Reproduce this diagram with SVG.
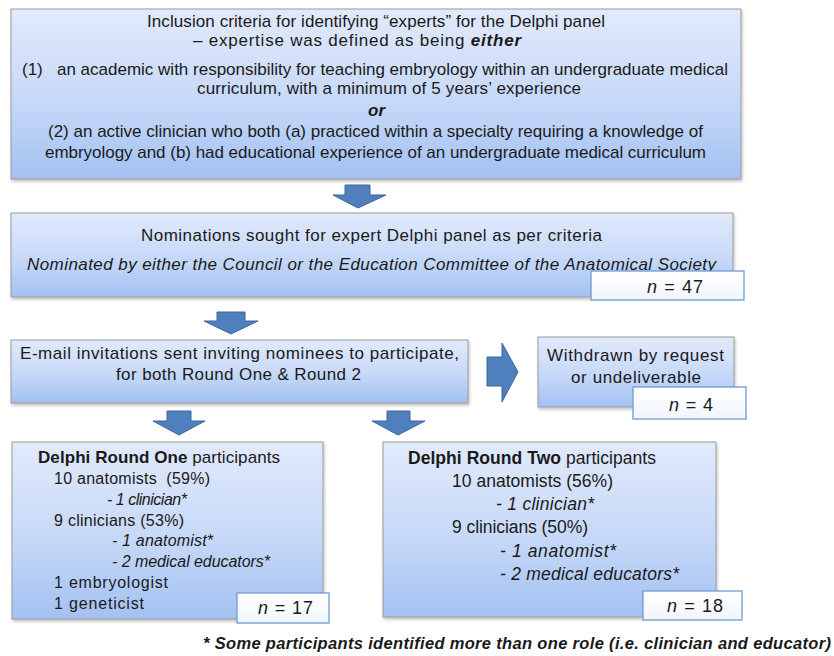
<svg xmlns="http://www.w3.org/2000/svg" width="834" height="656" viewBox="0 0 834 656">
<style>
text{font-family:"Liberation Sans",Arial,sans-serif;fill:#1a1a1a;font-size:17px}
.box{fill:url(#g);stroke:#9a9a9a;stroke-width:1;filter:url(#sh)}
.nb{fill:url(#gw);stroke:#6e9bd3;stroke-width:1.3}
.arr{fill:#4f7fbc;stroke:#3c679c;stroke-width:1}
.it{font-style:italic}
.b{font-weight:bold}
.s{font-size:16px}
.h1{font-size:17px}
.h2{font-size:17.5px}
.m{font-size:17.5px}
.n{font-size:18px}
.f{font-size:16.5px}
</style>
<defs>
<linearGradient id="g" x1="0" y1="0" x2="0" y2="1">
<stop offset="0" stop-color="#e2eafb"/>
<stop offset="0.55" stop-color="#c6d8f8"/>
<stop offset="1" stop-color="#a3c1f2"/>
</linearGradient>
<linearGradient id="gw" x1="0" y1="0" x2="0" y2="1">
<stop offset="0" stop-color="#ffffff"/>
<stop offset="1" stop-color="#f1f5fc"/>
</linearGradient>
<filter id="sh" x="-5%" y="-5%" width="110%" height="120%">
<feDropShadow dx="1" dy="2" stdDeviation="1.5" flood-color="#000" flood-opacity="0.25"/>
</filter>
</defs>

<g id="connectors">
<polygon class="arr" points="345,185 370,185 370,195 386,195 358,208 333,195 345,195"/>
<polygon class="arr" points="217,312 245,312 245,321 258,321 231,334 204,321 217,321"/>
<polygon class="arr" points="487,357 502,357 502,343 518,372 502,402 502,386 487,386"/>
<polygon class="arr" points="167,411 191,411 191,421 205,421 179,435 153,421 167,421"/>
<polygon class="arr" points="387,411 410,411 410,421 425,421 398,435 372,421 387,421"/>
</g>

<g id="criteria">
<rect class="box" x="11" y="9" width="730" height="170"/>
<text x="147" y="27" textLength="458">Inclusion criteria for identifying “experts” for the Delphi panel</text>
<text x="193" y="46" textLength="328">– expertise was defined as being <tspan class="b it">either</tspan></text>
<text x="22" y="75" textLength="706" xml:space="preserve">(1)   an academic with responsibility for teaching embryology within an undergraduate medical</text>
<text x="197" y="94" textLength="384">curriculum, with a minimum of 5 years’ experience</text>
<text x="368" y="116" class="b it">or</text>
<text x="48" y="137" textLength="655">(2) an active clinician who both (a) practiced within a specialty requiring a knowledge of</text>
<text x="45" y="158" textLength="661">embryology and (b) had educational experience of an undergraduate medical curriculum</text>
</g>

<g id="nominations">
<rect class="box" x="11" y="213" width="722" height="84"/>
<text x="141" y="241" textLength="461">Nominations sought for expert Delphi panel as per criteria</text>
<text x="27" y="270" class="it" textLength="689">Nominated by either the Council or the Education Committee of the Anatomical Society</text>
<rect class="nb" x="591" y="271" width="153" height="29"/>
<text x="647" y="293" class="n" textLength="56"><tspan class="it">n</tspan> = 47</text>
</g>

<g id="invitations">
<rect class="box" x="11" y="340" width="457" height="63"/>
<text x="20" y="359" textLength="439">E-mail invitations sent inviting nominees to participate,</text>
<text x="116" y="380" textLength="245">for both Round One &amp; Round 2</text>
</g>

<g id="withdrawn">
<rect class="box" x="538" y="337" width="196" height="70"/>
<text x="547" y="361" textLength="177">Withdrawn by request</text>
<text x="571" y="383" textLength="130">or undeliverable</text>
<rect class="nb" x="633" y="387" width="113" height="32"/>
<text x="669" y="411" class="n" textLength="44"><tspan class="it">n</tspan> = 4</text>
</g>

<g id="round-one">
<rect class="box" x="12" y="442" width="311" height="177"/>
<text x="38" y="463" class="h1" textLength="242"><tspan class="b">Delphi Round One</tspan> participants</text>
<text x="54" y="484" class="s" textLength="156" xml:space="preserve">10 anatomists  (59%)</text>
<text x="107" y="505" class="s it" textLength="80">- 1 clinician*</text>
<text x="54" y="526" class="s" textLength="130">9 clinicians (53%)</text>
<text x="112" y="546" class="s it" textLength="101">- 1 anatomist*</text>
<text x="112" y="567" class="s it" textLength="158">- 2 medical educators*</text>
<text x="54" y="588" class="s" textLength="114">1 embryologist</text>
<text x="54" y="609" class="s" textLength="90">1 geneticist</text>
<rect class="nb" x="237" y="593" width="92" height="30"/>
<text x="258" y="614" class="n" textLength="55"><tspan class="it">n</tspan> = 17</text>
</g>

<g id="round-two">
<rect class="box" x="383" y="442" width="333" height="175"/>
<text x="408" y="464" class="h2" textLength="248"><tspan class="b">Delphi Round Two</tspan> participants</text>
<text x="452" y="487" class="m" textLength="161">10 anatomists (56%)</text>
<text x="496" y="510" class="m it" textLength="98">- 1 clinician*</text>
<text x="452" y="533" class="m" textLength="136">9 clinicians (50%)</text>
<text x="500" y="557" class="m it" textLength="116">- 1 anatomist*</text>
<text x="500" y="580" class="m it" textLength="179">- 2 medical educators*</text>
<rect class="nb" x="643" y="591" width="99" height="29"/>
<text x="667" y="612" class="n" textLength="56"><tspan class="it">n</tspan> = 18</text>
</g>

<text x="203" y="649" class="f b it" textLength="628">* Some participants identified more than one role (i.e. clinician and educator)</text>
</svg>
